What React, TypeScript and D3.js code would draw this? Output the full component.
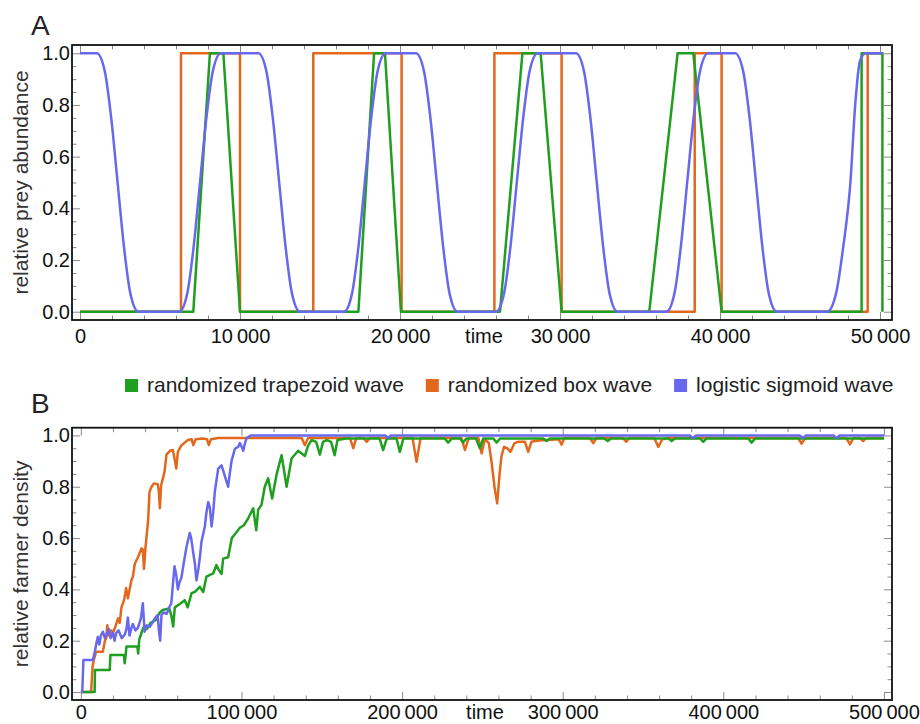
import React, { useRef, useEffect } from 'react';
import * as d3 from 'd3';

const seriesNames = ['randomized trapezoid wave', 'randomized box wave', 'logistic sigmoid wave'];
const seriesColors = ['#1f9f1f', '#e2681d', '#6868ee'];

const preyTimeTicks = [0, 10000, 20000, 30000, 40000, 50000];
const farmerTimeTicks = [0, 100000, 200000, 300000, 400000, 500000];
const valueTicks = [0, 0.2, 0.4, 0.6, 0.8, 1.0];

// panel A — relative prey abundance, [time, value]
const preyTrapezoid = [
  [0, 0], [7080, 0], [8120, 1], [8960, 1], [10000, 0], [17400, 0], [18380, 1], [19060, 1],
  [20060, 0], [26250, 0], [27650, 1], [28790, 1], [30100, 0], [35580, 0], [37350, 1],
  [38330, 1], [40100, 0], [48850, 0], [48850, 1], [50150, 1], [50150, 0]
];

const preyBox = [
  [0, 0], [6310, 0], [6310, 1], [10000, 1], [10000, 0], [14580, 0], [14580, 1], [20100, 1],
  [20100, 0], [25900, 0], [25900, 1], [30100, 1], [30100, 0], [38420, 0], [38420, 1],
  [40100, 1], [40100, 0], [49230, 0], [49230, 1], [50150, 1]
];

const preySigmoid = [
  [0, 1], [1050, 1], [1550, 0.93], [1950, 0.75], [2350, 0.5], [2750, 0.25], [3150, 0.07], [3650, 0],
  [6200, 0], [6700, 0.07], [7100, 0.25], [7500, 0.5], [7900, 0.75], [8300, 0.93], [8800, 1],
  [11150, 1], [11650, 0.93], [12050, 0.75], [12450, 0.5], [12850, 0.25], [13250, 0.07], [13750, 0],
  [16500, 0], [17000, 0.07], [17400, 0.25], [17800, 0.5], [18200, 0.75], [18600, 0.93], [19100, 1],
  [21000, 1], [21500, 0.93], [21900, 0.75], [22300, 0.5], [22700, 0.25], [23100, 0.07], [23600, 0],
  [26000, 0], [26500, 0.07], [26900, 0.25], [27300, 0.5], [27700, 0.75], [28100, 0.93], [28600, 1],
  [31000, 1], [31500, 0.93], [31900, 0.75], [32300, 0.5], [32700, 0.25], [33100, 0.07], [33600, 0],
  [36650, 0], [37150, 0.07], [37550, 0.25], [37950, 0.5], [38350, 0.75], [38750, 0.93], [39250, 1],
  [40950, 1], [41450, 0.93], [41850, 0.75], [42250, 0.5], [42650, 0.25], [43050, 0.07], [43550, 0],
  [46700, 0], [47250, 0.07], [47700, 0.25], [48150, 0.5], [48450, 0.8], [48750, 0.97], [49100, 1],
  [50150, 1]
];

// panel B — relative farmer density, [time, value]
const farmerTrapezoid = [
  [0, 0], [8600, 0], [8800, 0.086], [18000, 0.086], [18400, 0.144], [26800, 0.144], [27300, 0.112],
  [27900, 0.144], [28400, 0.177], [35200, 0.177], [35700, 0.15], [36400, 0.205], [38800, 0.25],
  [41000, 0.245], [43500, 0.27], [46500, 0.28], [49200, 0.31], [51000, 0.32], [55000, 0.326],
  [56300, 0.3], [57500, 0.255], [58500, 0.33], [62000, 0.345], [64700, 0.358], [66500, 0.33],
  [68900, 0.385], [71000, 0.39], [74100, 0.41], [76200, 0.39], [78200, 0.45], [82400, 0.462],
  [84400, 0.495], [86000, 0.475], [87600, 0.46], [88600, 0.52], [91700, 0.525], [94000, 0.6],
  [95900, 0.615], [99000, 0.64], [101500, 0.65], [104200, 0.677], [107300, 0.716], [109200, 0.63],
  [110400, 0.71], [112500, 0.73], [114500, 0.8], [116600, 0.833], [119100, 0.754], [121800, 0.846],
  [125000, 0.923], [128100, 0.8], [131200, 0.91], [135300, 0.94], [139500, 0.92], [141500, 0.96],
  [143600, 0.982], [146500, 0.975], [148800, 0.925], [150800, 0.975], [153000, 0.982],
  [155800, 0.975], [158000, 0.923], [159800, 0.982], [165000, 0.988], [186000, 0.988],
  [188200, 0.943], [190500, 0.988], [196500, 0.988], [198600, 0.936], [200800, 0.988],
  [226500, 0.988], [228700, 0.972], [231000, 0.988], [236000, 0.988], [238000, 0.972],
  [240000, 0.988], [246000, 0.988], [248400, 0.95], [250500, 0.988], [256800, 0.988],
  [258800, 0.972], [261000, 0.988], [288000, 0.988], [290000, 0.978], [292000, 0.988],
  [326000, 0.988], [328000, 0.978], [330000, 0.988], [366000, 0.988], [367800, 0.978],
  [369800, 0.988], [385500, 0.988], [387500, 0.975], [389500, 0.988], [415500, 0.988],
  [417600, 0.972], [419800, 0.988], [500000, 0.988]
];

const farmerBox = [
  [0, 0], [6400, 0], [7300, 0.1], [8100, 0.125], [9500, 0.157], [13700, 0.157], [15000, 0.2],
  [15800, 0.21], [16500, 0.26], [17300, 0.22], [18900, 0.24], [20000, 0.23], [21500, 0.255],
  [23200, 0.287], [24200, 0.27], [25300, 0.33], [27000, 0.36], [28200, 0.405], [29300, 0.365],
  [31500, 0.436], [32400, 0.45], [33600, 0.5], [35700, 0.527], [37800, 0.56], [38600, 0.555],
  [39300, 0.48], [40200, 0.56], [41900, 0.67], [42750, 0.78], [44000, 0.8], [45500, 0.813],
  [47900, 0.81], [48600, 0.78], [49200, 0.716], [50000, 0.806], [52100, 0.858], [53300, 0.925],
  [55500, 0.94], [57300, 0.943], [58600, 0.9], [59400, 0.871], [60400, 0.936], [62500, 0.96],
  [66600, 0.982], [69000, 0.985], [70000, 0.962], [71500, 0.985], [76000, 0.988], [78500, 0.985],
  [79700, 0.962], [81000, 0.985], [85500, 0.99], [137500, 0.99], [139500, 0.962], [141500, 0.99],
  [167500, 0.99], [169600, 0.95], [171500, 0.99], [176000, 0.99], [177900, 0.975], [180000, 0.99],
  [206500, 0.99], [209000, 0.897], [211500, 0.99], [237000, 0.99], [239100, 0.943], [241500, 0.99],
  [247500, 0.99], [249500, 0.93], [251500, 0.985], [254000, 0.97], [255700, 0.897], [257500, 0.8],
  [259200, 0.735], [260700, 0.85], [261900, 0.92], [263500, 0.955], [265500, 0.95], [267500, 0.936],
  [270000, 0.97], [272500, 0.975], [276500, 0.975], [278500, 0.936], [280500, 0.975], [285000, 0.98],
  [297500, 0.985], [299300, 0.964], [301000, 0.99], [317000, 0.99], [319000, 0.97], [321000, 0.99],
  [337500, 0.99], [339500, 0.975], [341500, 0.99], [357000, 0.99], [359500, 0.955], [362000, 0.985],
  [366000, 0.99], [446500, 0.99], [448700, 0.968], [451000, 0.99], [476500, 0.99], [478800, 0.965],
  [481000, 0.99], [485000, 0.99], [487000, 0.978], [489000, 0.99], [500000, 0.99]
];

const farmerSigmoid = [
  [0, 0], [900, 0], [1600, 0.125], [7500, 0.125], [8800, 0.16], [10000, 0.2], [10600, 0.215],
  [11500, 0.185], [12500, 0.22], [13700, 0.235], [15000, 0.21], [16000, 0.225], [17500, 0.245],
  [18500, 0.21], [20000, 0.23], [21000, 0.2], [22000, 0.23], [23500, 0.24], [25500, 0.21],
  [27500, 0.225], [28500, 0.25], [29300, 0.29], [30300, 0.22], [31500, 0.25], [32400, 0.265],
  [34000, 0.24], [35500, 0.25], [37400, 0.287], [38600, 0.346], [39700, 0.235], [41000, 0.26],
  [43000, 0.255], [45000, 0.275], [46500, 0.29], [47800, 0.3], [48600, 0.24], [49400, 0.2],
  [50200, 0.3], [51500, 0.31], [53500, 0.305], [55000, 0.33], [56300, 0.345], [58300, 0.49],
  [59300, 0.46], [60400, 0.4], [61500, 0.43], [62600, 0.445], [64000, 0.5], [65800, 0.566],
  [67800, 0.62], [68700, 0.6], [69800, 0.55], [71000, 0.5], [72000, 0.435], [73200, 0.48],
  [74200, 0.53], [75100, 0.586], [77200, 0.645], [78200, 0.7], [79300, 0.74], [80300, 0.72],
  [81400, 0.645], [82400, 0.7], [83400, 0.78], [85500, 0.87], [87600, 0.883], [88800, 0.86],
  [89700, 0.84], [91700, 0.8], [92700, 0.85], [93800, 0.9], [95900, 0.948], [97900, 0.955],
  [99000, 0.97], [100200, 0.955], [101100, 0.94], [102200, 0.97], [103200, 0.99], [106000, 1],
  [189500, 1], [191300, 0.99], [193000, 1], [379000, 1], [381000, 0.99], [383000, 1],
  [447500, 1], [449600, 0.99], [451500, 1], [468500, 1], [470500, 0.99], [472500, 1], [500000, 1]
];

const width = 920;
const height = 724;
const FONT = '"Liberation Sans", Arial, Helvetica, sans-serif';
const frameLeft = 72;
const frameRight = 892;

const timeFormat = (d: number) => (d === 0 ? '0' : d3.format(',')(d).replace(/,/g, '\u2009'));

function drawPanel(svg: any, cfg: any) {
  const { top, bottom, xDomain, majorX, minorX, series, smooth, letter, letterY, yTitle, timeX, labelPad } = cfg;
  const x = d3.scaleLinear().domain(xDomain).range([frameLeft, frameRight]);
  const y = d3.scaleLinear().domain(cfg.yDomain).range([bottom, top]);
  const minorY = d3.range(0, 1.0001, 0.05).filter(v => Math.abs(v * 5 - Math.round(v * 5)) > 1e-6);

  const g = svg.append('g');

  const clean = (sel: any) => {
    sel.select('.domain').remove();
    sel.selectAll('line').attr('stroke', '#8a8a8a').attr('stroke-width', 1);
    sel.attr('font-size', 20).attr('font-family', FONT);
    sel.selectAll('text').attr('fill', '#111');
  };
  const none = () => '';

  // inward ticks on all four sides, minor then major
  g.append('g').attr('transform', `translate(0,${bottom})`)
    .call(d3.axisBottom(x).tickValues(minorX).tickSize(-4.5).tickFormat(none)).call(clean);
  g.append('g').attr('transform', `translate(0,${top})`)
    .call(d3.axisTop(x).tickValues(minorX).tickSize(-4.5).tickFormat(none)).call(clean);
  g.append('g').attr('transform', `translate(${frameLeft},0)`)
    .call(d3.axisLeft(y).tickValues(minorY).tickSize(-4.5).tickFormat(none)).call(clean);
  g.append('g').attr('transform', `translate(${frameRight},0)`)
    .call(d3.axisRight(y).tickValues(minorY).tickSize(-4.5).tickFormat(none)).call(clean);

  g.append('g').attr('transform', `translate(0,${bottom})`)
    .call(d3.axisBottom(x).tickValues(majorX).tickSize(-8).tickPadding(labelPad).tickFormat(timeFormat)).call(clean);
  g.append('g').attr('transform', `translate(0,${top})`)
    .call(d3.axisTop(x).tickValues(majorX).tickSize(-8).tickFormat(none)).call(clean);
  g.append('g').attr('transform', `translate(${frameLeft},0)`)
    .call(d3.axisLeft(y).tickValues(valueTicks).tickSize(-8).tickPadding(2).tickFormat(d3.format('.1f'))).call(clean);
  g.append('g').attr('transform', `translate(${frameRight},0)`)
    .call(d3.axisRight(y).tickValues(valueTicks).tickSize(-8).tickFormat(none)).call(clean);

  // data lines: box, trapezoid, sigmoid (sigmoid drawn last, on top)
  const order = [1, 0, 2];
  order.forEach(i => {
    const line = d3.line()
      .x((d: any) => x(d[0]))
      .y((d: any) => y(d[1]))
      .curve(smooth[i] ? d3.curveMonotoneX : d3.curveLinear);
    g.append('path')
      .attr('d', line(series[i]))
      .attr('fill', 'none')
      .attr('stroke', seriesColors[i])
      .attr('stroke-width', 2.5)
      .attr('stroke-linejoin', 'round');
  });

  g.append('rect')
    .attr('x', frameLeft).attr('y', top)
    .attr('width', frameRight - frameLeft).attr('height', bottom - top)
    .attr('fill', 'none').attr('stroke', '#111').attr('stroke-width', 1.8);

  g.append('text')
    .attr('x', timeX).attr('y', bottom + labelPad).attr('dy', '0.71em')
    .attr('text-anchor', 'middle').attr('font-size', 20).attr('font-family', FONT).attr('fill', '#111')
    .text('time');

  g.append('text')
    .attr('transform', `translate(28,${(top + bottom) / 2}) rotate(-90)`)
    .attr('text-anchor', 'middle').attr('font-size', 21).attr('font-family', FONT).attr('fill', '#333')
    .text(yTitle);

  g.append('text')
    .attr('x', 31).attr('y', letterY)
    .attr('font-size', 28).attr('font-family', FONT).attr('fill', '#222')
    .text(letter);
}

const Chart = () => {
  const ref = useRef<SVGSVGElement>(null);

  useEffect(() => {
    const svg = d3.select(ref.current);
    svg.selectAll('*').remove();

    drawPanel(svg, {
      top: 45, bottom: 320,
      xDomain: [-500, 50750], yDomain: [-0.032, 1.032],
      majorX: preyTimeTicks, minorX: d3.range(0, 50001, 2000).filter(v => v % 10000 !== 0),
      series: [preyTrapezoid, preyBox, preySigmoid], smooth: [false, false, true],
      letter: 'A', letterY: 35, yTitle: 'relative prey abundance', timeX: 484, labelPad: 9
    });

    drawPanel(svg, {
      top: 427.7, bottom: 700,
      xDomain: [-5500, 505000], yDomain: [-0.031, 1.03],
      majorX: farmerTimeTicks, minorX: d3.range(0, 500001, 20000).filter(v => v % 100000 !== 0),
      series: [farmerTrapezoid, farmerBox, farmerSigmoid], smooth: [false, false, false],
      letter: 'B', letterY: 413, yTitle: 'relative farmer density', timeX: 485, labelPad: 5
    });

    // legend row between the panels
    const legend = svg.append('g').attr('font-family', FONT).attr('font-size', 21);
    let cursor = 125;
    seriesNames.forEach((name, i) => {
      legend.append('rect')
        .attr('x', cursor).attr('y', 379).attr('width', 13).attr('height', 13)
        .attr('fill', seriesColors[i]);
      const t = legend.append('text')
        .attr('x', cursor + 22).attr('y', 392).attr('fill', '#222')
        .text(name);
      const w = (t.node() as SVGTextElement).getComputedTextLength();
      cursor += 22 + w + 22;
    });
  }, []);

  return (
    <svg
      ref={ref}
      width={width}
      height={height}
      style={{ position: 'absolute', left: 0, top: 0, background: '#fff' }}
    />
  );
};

export default function App() {
  return <Chart />;
}
